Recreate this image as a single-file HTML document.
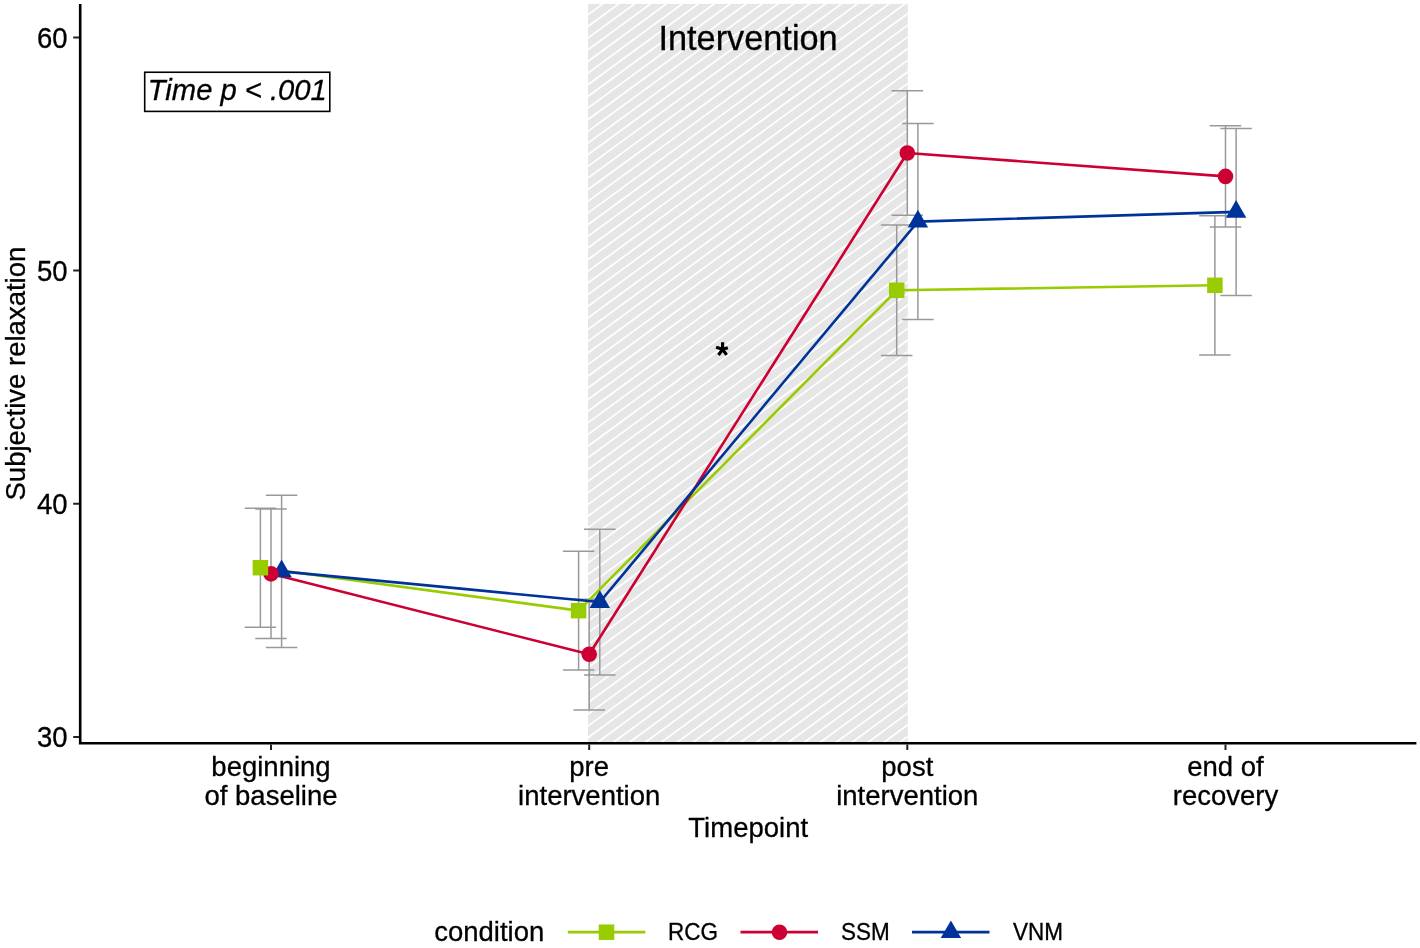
<!DOCTYPE html>
<html><head><meta charset="utf-8"><title>Subjective relaxation by timepoint</title>
<style>
html,body{margin:0;padding:0;background:#fff;}
body{width:1420px;height:948px;overflow:hidden;}
svg{display:block;will-change:transform;font-family:"Liberation Sans", sans-serif;}
text{fill:#000;stroke:#000;stroke-width:0.3px;}
</style></head><body>
<svg width="1420" height="948" viewBox="0 0 1420 948">
<rect width="1420" height="948" fill="#fff"/>
<defs><clipPath id="cp"><rect x="588.0" y="3.9" width="319.8" height="739.3"/></clipPath></defs>
<rect x="588.0" y="3.9" width="319.8" height="739.3" fill="#e6e6e6"/>
<path clip-path="url(#cp)" d="M586 4.52L909.8 -232.82M586 16.18L909.8 -221.16M586 27.84L909.8 -209.5M586 39.5L909.8 -197.84M586 51.16L909.8 -186.18M586 62.82L909.8 -174.52M586 74.48L909.8 -162.86M586 86.14L909.8 -151.2M586 97.8L909.8 -139.54M586 109.46L909.8 -127.88M586 121.12L909.8 -116.22M586 132.78L909.8 -104.56M586 144.44L909.8 -92.9M586 156.1L909.8 -81.24M586 167.76L909.8 -69.58M586 179.42L909.8 -57.92M586 191.08L909.8 -46.26M586 202.74L909.8 -34.6M586 214.4L909.8 -22.94M586 226.06L909.8 -11.28M586 237.72L909.8 0.38M586 249.38L909.8 12.04M586 261.04L909.8 23.7M586 272.7L909.8 35.36M586 284.36L909.8 47.02M586 296.02L909.8 58.68M586 307.68L909.8 70.34M586 319.34L909.8 82M586 331L909.8 93.66M586 342.66L909.8 105.32M586 354.32L909.8 116.98M586 365.98L909.8 128.64M586 377.64L909.8 140.3M586 389.3L909.8 151.96M586 400.96L909.8 163.62M586 412.62L909.8 175.28M586 424.28L909.8 186.94M586 435.94L909.8 198.6M586 447.6L909.8 210.26M586 459.26L909.8 221.92M586 470.92L909.8 233.58M586 482.58L909.8 245.24M586 494.24L909.8 256.9M586 505.9L909.8 268.56M586 517.56L909.8 280.22M586 529.22L909.8 291.88M586 540.88L909.8 303.54M586 552.54L909.8 315.2M586 564.2L909.8 326.86M586 575.86L909.8 338.52M586 587.52L909.8 350.18M586 599.18L909.8 361.84M586 610.84L909.8 373.5M586 622.5L909.8 385.16M586 634.16L909.8 396.82M586 645.82L909.8 408.48M586 657.48L909.8 420.14M586 669.14L909.8 431.8M586 680.8L909.8 443.46M586 692.46L909.8 455.12M586 704.12L909.8 466.78M586 715.78L909.8 478.44M586 727.44L909.8 490.1M586 739.1L909.8 501.76M586 750.76L909.8 513.42M586 762.42L909.8 525.08M586 774.08L909.8 536.74M586 785.74L909.8 548.4M586 797.4L909.8 560.06M586 809.06L909.8 571.72M586 820.72L909.8 583.38M586 832.38L909.8 595.04M586 844.04L909.8 606.7M586 855.7L909.8 618.36M586 867.36L909.8 630.02M586 879.02L909.8 641.68M586 890.68L909.8 653.34M586 902.34L909.8 665M586 914L909.8 676.66M586 925.66L909.8 688.32M586 937.32L909.8 699.98M586 948.98L909.8 711.64M586 960.64L909.8 723.3M586 972.3L909.8 734.96" stroke="#fff" stroke-width="1.7" fill="none"/>
<text transform="translate(658.4 50) scale(1 1.03)" font-size="34.33">Intervention</text>
<path d="M722.6 349.35L722.6 342.3M722.6 349.35L727.83 347.65M722.6 349.35L716.13 347.25M722.6 349.35L726.6 354.85M722.6 349.35L718.49 355.01" stroke="#000" stroke-width="3.2" fill="none"/>
<path d="M244.65 508.2H276.15M260.4 508.2V627.2M244.65 627.2H276.15M562.85 551.2H594.35M578.6 551.2V670.1M562.85 670.1H594.35M880.95 225.05H912.45M896.7 225.05V355.6M880.95 355.6H912.45M1199.15 215.7H1230.65M1214.9 215.7V354.9M1199.15 354.9H1230.65M255.25 509.1H286.75M271 509.1V638.6M255.25 638.6H286.75M573.45 599.3H604.95M589.2 599.3V710M573.45 710H604.95M891.55 90.8H923.05M907.3 90.8V215.3M891.55 215.3H923.05M1209.75 125.7H1241.25M1225.5 125.7V227.1M1209.75 227.1H1241.25M265.85 495.35H297.35M281.6 495.35V647.4M265.85 647.4H297.35M584.05 529.2H615.55M599.8 529.2V674.9M584.05 674.9H615.55M902.15 123.5H933.65M917.9 123.5V319.5M902.15 319.5H933.65M1220.35 128.4H1251.85M1236.1 128.4V295.4M1220.35 295.4H1251.85" stroke="#999999" stroke-width="1.5" fill="none"/>
<polyline points="260.4,567.7 578.6,610.65 896.7,290.3 1214.9,285.3" stroke="#99CC00" stroke-width="2.6" fill="none" stroke-linejoin="round"/>
<polyline points="271,573.85 589.2,654.3 907.3,153.05 1225.5,176.4" stroke="#CC0033" stroke-width="2.6" fill="none" stroke-linejoin="round"/>
<polyline points="281.6,571.4 599.8,602.05 917.9,221.6 1236.1,211.9" stroke="#003399" stroke-width="2.6" fill="none" stroke-linejoin="round"/>
<polygon points="281.6,559.6 291.82,577.3 271.38,577.3" fill="#003399"/>
<polygon points="599.8,590.25 610.02,607.95 589.58,607.95" fill="#003399"/>
<polygon points="917.9,209.8 928.12,227.5 907.68,227.5" fill="#003399"/>
<polygon points="1236.1,200.1 1246.32,217.8 1225.88,217.8" fill="#003399"/>
<circle cx="271" cy="573.85" r="7.8" fill="#CC0033"/>
<circle cx="589.2" cy="654.3" r="7.8" fill="#CC0033"/>
<circle cx="907.3" cy="153.05" r="7.8" fill="#CC0033"/>
<circle cx="1225.5" cy="176.4" r="7.8" fill="#CC0033"/>
<rect x="252.65" y="559.95" width="15.5" height="15.5" fill="#99CC00"/>
<rect x="570.85" y="602.9" width="15.5" height="15.5" fill="#99CC00"/>
<rect x="888.95" y="282.55" width="15.5" height="15.5" fill="#99CC00"/>
<rect x="1207.15" y="277.55" width="15.5" height="15.5" fill="#99CC00"/>
<path d="M80.2 3.9V744.5M78.9 743.2H1416.4" stroke="#000" stroke-width="2.6" fill="none"/>
<path d="M73.2 37.5H79M73.2 270.6H79M73.2 503.8H79M73.2 737.0H79M271 744.5V750M589.2 744.5V750M907.3 744.5V750M1225.5 744.5V750" stroke="#222" stroke-width="2" fill="none"/>
<text transform="translate(67.6 47.8) scale(1 1.045)" font-size="27.5" text-anchor="end">60</text>
<text transform="translate(67.6 280.9) scale(1 1.045)" font-size="27.5" text-anchor="end">50</text>
<text transform="translate(67.6 514.1) scale(1 1.045)" font-size="27.5" text-anchor="end">40</text>
<text transform="translate(67.6 747.3) scale(1 1.045)" font-size="27.5" text-anchor="end">30</text>
<text transform="translate(271 775.6)" font-size="27.5" text-anchor="middle">beginning</text>
<text transform="translate(271 805.3)" font-size="27.5" text-anchor="middle">of baseline</text>
<text transform="translate(589.2 775.6)" font-size="27.5" text-anchor="middle">pre</text>
<text transform="translate(589.2 805.3)" font-size="27.5" text-anchor="middle">intervention</text>
<text transform="translate(907.3 775.6)" font-size="27.5" text-anchor="middle">post</text>
<text transform="translate(907.3 805.3)" font-size="27.5" text-anchor="middle">intervention</text>
<text transform="translate(1225.5 775.6)" font-size="27.5" text-anchor="middle">end of</text>
<text transform="translate(1225.5 805.3)" font-size="27.5" text-anchor="middle">recovery</text>
<text transform="translate(748.2 837)" font-size="27.5" text-anchor="middle">Timepoint</text>
<text transform="translate(25.2 373.6) rotate(-90)" font-size="27.5" text-anchor="middle">Subjective relaxation</text>
<rect x="144.7" y="72.25" width="185.1" height="39.15" fill="#fff" stroke="#000" stroke-width="1.6"/>
<text transform="translate(147.8 100.1) scale(1 1.03)" font-size="29.2" font-style="italic">Time p &lt; .001</text>
<text transform="translate(434.2 941.2)" font-size="27.5">condition</text>
<line x1="567.8" y1="932.1" x2="645.3" y2="932.1" stroke="#99CC00" stroke-width="2.6"/>
<rect x="598.75" y="924.45" width="15.5" height="15.5" fill="#99CC00"/>
<text transform="translate(668.05 939.9) scale(1 1.03)" font-size="22.5">RCG</text>
<line x1="740.5" y1="932.1" x2="818" y2="932.1" stroke="#CC0033" stroke-width="2.6"/>
<circle cx="779.5" cy="932.2" r="7.8" fill="#CC0033"/>
<text transform="translate(840.9 939.9) scale(1 1.03)" font-size="22.5">SSM</text>
<line x1="912.0" y1="932.1" x2="989.5" y2="932.1" stroke="#003399" stroke-width="2.6"/>
<polygon points="950.9,920.4 961.12,938.1 940.68,938.1" fill="#003399"/>
<text transform="translate(1013 939.9) scale(1 1.03)" font-size="22.5">VNM</text>
</svg>
</body></html>
